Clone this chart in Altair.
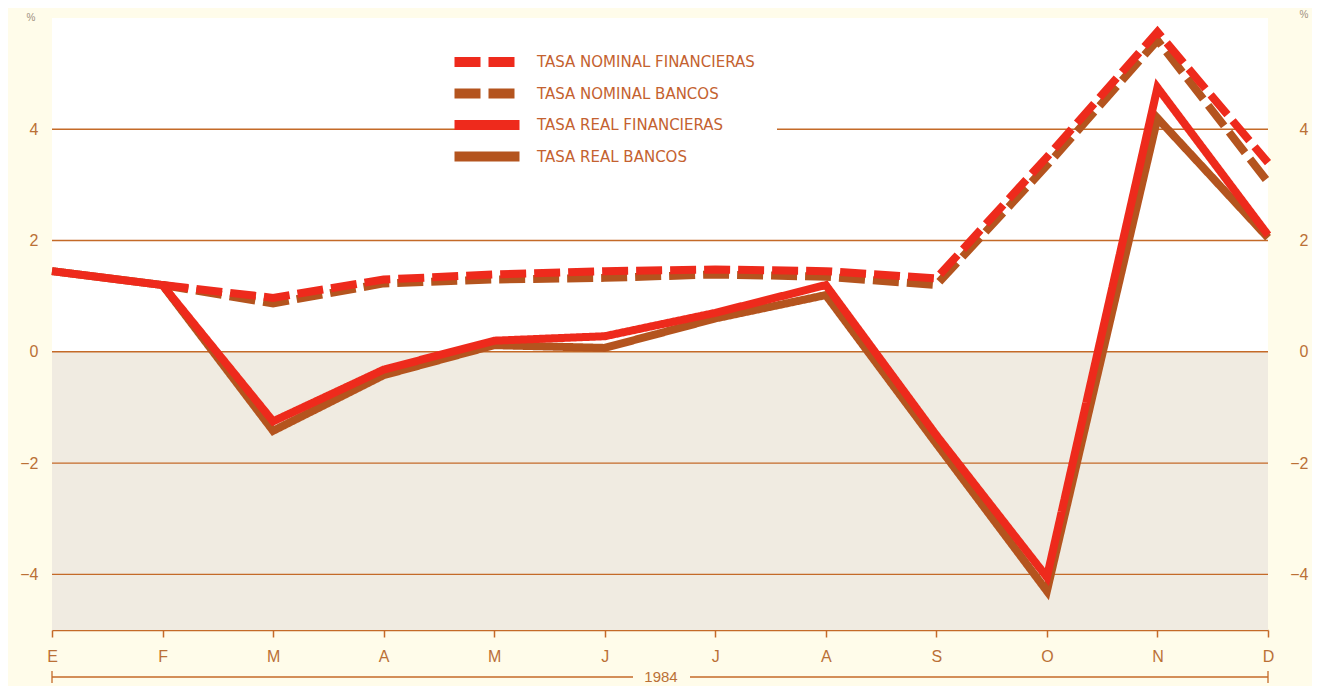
import altair as alt
import pandas as pd

# ---------------- data ----------------
meses = ["E", "F", "M", "A", "M", "J", "J", "A", "S", "O", "N", "D"]
series = ["TASA NOMINAL FINANCIERAS", "TASA NOMINAL BANCOS",
          "TASA REAL FINANCIERAS", "TASA REAL BANCOS"]
nominal_financieras = [None, 1.2, 0.97, 1.3, 1.39, 1.45, 1.48, 1.45, 1.32, 3.5, 5.75, 3.4]
nominal_bancos = [None, 1.2, 0.87, 1.23, 1.3, 1.33, 1.39, 1.35, 1.2, 3.35, 5.6, 3.05]
real_financieras = [1.45, 1.2, -1.25, -0.32, 0.2, 0.28, 0.7, 1.2, -1.5, -4.05, 4.75, 2.1]
real_bancos = [1.45, 1.2, -1.42, -0.42, 0.12, 0.07, 0.6, 1.02, -1.65, -4.3, 4.2, 2.05]
y_ticks = [-4, -2, 0, 2, 4]
y_dominio = [-5, 6]
anio = "1984"
unidad = "%"

# ---------------- style ----------------
RED = "#EE2A1C"
BROWN = "#B4541E"
GRID = "#C46A28"
LABEL = "#BA7036"
LEG_LABEL = "#C46230"
BG = "#FFFCEA"
STIPPLE = "#F0EBE1"
FONT = "Liberation Sans"
LEG_FONT = "DejaVu Sans"
W, H = 1216, 612

valores = dict(zip(series, [nominal_financieras, nominal_bancos, real_financieras, real_bancos]))
rows = []
for s in series:
    for i, v in enumerate(valores[s]):
        if v is not None:
            rows.append({"serie": s, "mes": i, "valor": v})
df = pd.DataFrame(rows)

x_scale = alt.Scale(domain=[0, len(meses) - 1], nice=False, zero=False)
y_scale = alt.Scale(domain=y_dominio, nice=False, zero=False)
color_scale = alt.Scale(domain=series, range=[RED, BROWN, RED, BROWN])
dash_scale = alt.Scale(domain=series, range=[[26, 8], [26, 8], [1, 0], [1, 0]])

label_list = "[" + ",".join("'%s'" % m for m in meses) + "]"
x_axis = alt.Axis(values=list(range(len(meses))), labelExpr=label_list + "[datum.value]",
                  title=None, grid=False, domainColor=GRID, domainWidth=1.5,
                  tickColor=GRID, tickWidth=1.5, tickSize=7, labelPadding=11,
                  labelFont=FONT, labelFontSize=16, labelColor=LABEL, labelFlush=False)

leyenda = alt.Legend(title=None, orient="none", legendX=403, legendY=12,
                     fillColor="white", padding=22, rowPadding=-8.5,
                     symbolType="M-6.5,0H6.5", symbolSize=100, symbolStrokeWidth=10,
                     labelFont=LEG_FONT, labelFontSize=15, labelFontWeight=500,
                     labelColor=LEG_LABEL, labelOffset=40, labelLimit=400)

# stippled zone below zero (with right axis)
zona = alt.Chart(pd.DataFrame({"y0": [y_dominio[0]], "y1": [0]})).mark_rect(color=STIPPLE).encode(
    x=alt.value(0), x2=alt.value(W),
    y=alt.Y("y0:Q", scale=y_scale,
            axis=alt.Axis(values=y_ticks, orient="right", title=None, grid=False, domain=False,
                          ticks=False, labelPadding=40, labelAlign="right",
                          labelFont=FONT, labelFontSize=16, labelColor=LABEL)),
    y2="y1:Q",
)

# horizontal gridlines (with left axis)
grid = alt.Chart(pd.DataFrame({"valor": y_ticks})).mark_rule(color=GRID, strokeWidth=1.4).encode(
    y=alt.Y("valor:Q", scale=y_scale,
            axis=alt.Axis(values=y_ticks, orient="left", title=None, grid=False, domain=False,
                          ticks=False, labelPadding=14,
                          labelFont=FONT, labelFontSize=16, labelColor=LABEL)),
)


def capa(nombre):
    return alt.Chart(df[df.serie == nombre]).mark_line(
        strokeWidth=8, strokeCap="butt", strokeJoin="miter").encode(
        x=alt.X("mes:Q", scale=x_scale, axis=x_axis),
        y=alt.Y("valor:Q", scale=y_scale, axis=None),
        color=alt.Color("serie:N", scale=color_scale, legend=leyenda),
        strokeDash=alt.StrokeDash("serie:N", scale=dash_scale, legend=leyenda),
    )


lineas = [capa(series[1]), capa(series[0]), capa(series[3]), capa(series[2])]

# bottom "1984" bracket
deco = pd.DataFrame({"t": [anio]})
br_y = H + 47
brk_l = alt.Chart(deco).mark_rule(color=GRID, strokeWidth=1.3).encode(
    x=alt.value(0), x2=alt.value(581), y=alt.value(br_y))
brk_r = alt.Chart(deco).mark_rule(color=GRID, strokeWidth=1.3).encode(
    x=alt.value(638), x2=alt.value(W), y=alt.value(br_y))
cap_l = alt.Chart(deco).mark_rule(color=GRID, strokeWidth=1.3).encode(
    x=alt.value(0), y=alt.value(br_y - 6), y2=alt.value(br_y + 6))
cap_r = alt.Chart(deco).mark_rule(color=GRID, strokeWidth=1.3).encode(
    x=alt.value(W), y=alt.value(br_y - 6), y2=alt.value(br_y + 6))
txt = alt.Chart(deco).mark_text(font=FONT, fontSize=15, color=LABEL, align="center",
                                baseline="middle").encode(
    x=alt.value(609), y=alt.value(br_y), text=alt.Text("t:N"))

# "%" unit markers
pct = pd.DataFrame({"t": [unidad]})
pct_l = alt.Chart(pct).mark_text(font=FONT, fontSize=10, color="#A09080", align="center",
                                 baseline="middle").encode(
    x=alt.value(-21), y=alt.value(0), text=alt.Text("t:N"))
pct_r = alt.Chart(pct).mark_text(font=FONT, fontSize=10, color="#A09080", align="center",
                                 baseline="middle").encode(
    x=alt.value(W + 36), y=alt.value(-3), text=alt.Text("t:N"))

chart = alt.layer(zona, grid, *lineas, brk_l, brk_r, cap_l, cap_r, txt, pct_l, pct_r).resolve_axis(
    y="independent"
).properties(
    width=W, height=H, autosize="none",
    padding={"left": 44, "top": 10, "right": 44, "bottom": 56},
    background=BG,
).configure_view(fill="white", stroke=None)

chart.save("out.html", embed_options={"renderer": "svg", "actions": False})
